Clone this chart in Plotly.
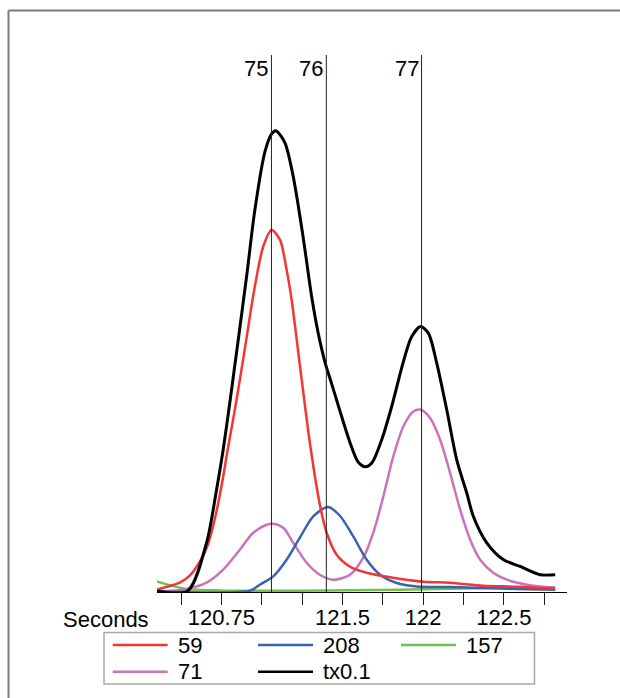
import plotly.graph_objects as go

# ---------------- data ----------------
series_names = ["59", "208", "157", "71", "tx0.1"]

t_59 = [120.349, 120.492, 120.554, 120.616, 120.666, 120.715, 120.752, 120.789, 120.844, 120.901,
        120.957, 121.009, 121.061, 121.113, 121.154, 121.185, 121.236, 121.298, 121.360, 121.402,
        121.464, 121.547, 121.650, 121.815, 122.001, 122.167, 122.372, 122.581, 122.818]
v_59 = [0.43, 1.73, 3.03, 5.64, 8.80, 14.39, 19.97, 26.48, 35.79, 46.40,
        56.88, 64.32, 67.43, 65.57, 59.99, 54.42, 42.31, 27.79, 16.25, 11.04,
        6.94, 4.71, 3.59, 2.66, 1.92, 1.73, 1.17, 0.98, 0.61]

t_208 = [120.349, 120.926, 120.988, 121.071, 121.154, 121.236, 121.319, 121.410, 121.484, 121.567,
         121.650, 121.733, 121.836, 121.960, 122.167, 122.373, 122.581, 122.818]
v_208 = [0.15, 0.24, 1.36, 2.90, 6.01, 10.11, 14.07, 15.82, 14.20, 10.35,
         6.01, 3.22, 1.68, 1.04, 0.93, 0.74, 0.56, 0.43]

t_157 = [120.349, 120.442, 120.534, 120.740, 121.236, 121.857, 122.353, 122.818]
v_157 = [1.97, 1.17, 0.56, 0.30, 0.24, 0.43, 0.71, 0.89]

t_71 = [120.349, 120.511, 120.658, 120.761, 120.864, 120.947, 121.030, 121.071, 121.133, 121.195,
        121.278, 121.360, 121.443, 121.547, 121.629, 121.691, 121.753, 121.815, 121.877,
        121.939, 121.985, 122.043, 122.105, 122.167, 122.229, 122.291, 122.353, 122.436, 122.519,
        122.643, 122.818]
v_71 = [0.15, 0.43, 1.73, 4.15, 7.87, 11.04, 12.53, 12.71, 11.97, 9.18,
        5.45, 3.22, 2.29, 3.22, 6.38, 11.04, 17.79, 25.24, 30.82,
        33.61, 33.93, 32.38, 28.35, 22.15, 15.32, 9.73, 6.01, 3.54, 2.29,
        1.36, 0.74]

t_tx = [120.349, 120.542, 120.658, 120.720, 120.761, 120.802, 120.906, 120.957, 121.019, 121.061,
        121.087, 121.143, 121.195, 121.257, 121.309, 121.348, 121.391, 121.435, 121.484, 121.547,
        121.596, 121.640, 121.683, 121.743, 121.805, 121.877, 121.929, 121.985, 122.032, 122.084,
        122.146, 122.208, 122.270, 122.311, 122.395, 122.498, 122.601, 122.725, 122.818]
v_tx = [0.15, 0.24, 9.18, 19.04, 26.48, 35.23, 58.74, 71.08, 81.90, 85.30,
        85.91, 83.70, 77.35, 65.94, 55.02, 48.45, 42.86, 38.58, 33.74, 27.79,
        24.25, 23.32, 24.07, 28.35, 34.54, 42.86, 47.57, 49.43, 48.20, 42.62,
        33.93, 24.62, 18.43, 14.07, 9.12, 6.01, 4.76, 3.22, 3.22]

peak_labels = ["75", "76", "77"]
peak_times = [121.06, 121.40, 121.99]

tick_vals = [120.5, 120.75, 121.0, 121.25, 121.5, 121.75, 122.0, 122.25, 122.5, 122.75]
tick_text = ["", "120.75", "", "", "121.5", "", "122", "", "122.5", ""]
x_title = "Seconds"

# ---------------- styling ----------------
W, H = 620, 698
ML, MR, MT, MB = 157, 53, 55, 106
PW, PH = W - ML - MR, H - MT - MB
FONT = "Liberation Sans, Arial, sans-serif"

colors = {"59": "#f23535", "208": "#3a62b0", "157": "#72c050", "71": "#cc72bd", "tx0.1": "#000000"}
widths = {"59": 2.5, "208": 2.5, "157": 2.5, "71": 2.5, "tx0.1": 3}
data = {"59": (t_59, v_59), "208": (t_208, v_208), "157": (t_157, v_157),
        "71": (t_71, v_71), "tx0.1": (t_tx, v_tx)}


def px(xp):
    return (xp - ML) / PW


def py(yp):
    return (H - MB - yp) / PH


fig = go.Figure()
for name in ["157", "71", "208", "59", "tx0.1"]:
    t, v = data[name]
    fig.add_trace(go.Scatter(x=t, y=v, mode="lines", name=name, showlegend=False,
                             line=dict(color=colors[name], width=widths[name],
                                       shape="spline", smoothing=0.8)))

shapes = []
annotations = []
# peak marker lines
for lab, pt in zip(peak_labels, peak_times):
    shapes.append(dict(type="line", xref="x", yref="paper", x0=pt, x1=pt, y0=0, y1=1,
                       line=dict(color="#222222", width=1), layer="above"))
    annotations.append(dict(text=lab, x=pt, xref="x", y=py(68.5), yref="paper",
                            xanchor="right", yanchor="middle", xshift=-1, showarrow=False,
                            font=dict(family=FONT, size=22, color="black")))

# axis title
annotations.append(dict(text=x_title, x=px(151), xref="paper", y=py(619), yref="paper",
                        xanchor="right", yanchor="middle", showarrow=False,
                        font=dict(family=FONT, size=22, color="black")))

# legend box
shapes.append(dict(type="rect", xref="paper", yref="paper", x0=px(104), x1=px(534.5),
                   y0=py(684), y1=py(632.5), line=dict(color="#a8a8a8", width=1.5),
                   fillcolor="white", layer="above"))
leg_cols = [112.7, 258, 401]
leg_rows = [645, 671.7]
for i, name in enumerate(series_names):
    c, r = i % 3, i // 3
    x0 = leg_cols[c]
    yy = leg_rows[r]
    shapes.append(dict(type="line", xref="paper", yref="paper", x0=px(x0), x1=px(x0 + 55),
                       y0=py(yy), y1=py(yy), line=dict(color=colors[name], width=2.5),
                       layer="above"))
    annotations.append(dict(text=name, x=px(x0 + 63), xref="paper", y=py(yy), yref="paper",
                            xanchor="left", yanchor="middle", showarrow=False,
                            font=dict(family=FONT, size=22, color="black")))

# outer frame (top and left edges visible)
shapes.append(dict(type="line", xref="paper", yref="paper", x0=px(8.5), x1=px(625),
                   y0=py(10.5), y1=py(10.5), line=dict(color="#7a7a7a", width=2)))
shapes.append(dict(type="line", xref="paper", yref="paper", x0=px(8.5), x1=px(8.5),
                   y0=py(10.5), y1=py(705), line=dict(color="#7a7a7a", width=2)))

fig.update_layout(
    width=W, height=H, autosize=False,
    margin=dict(l=ML, r=MR, t=MT, b=MB, pad=0),
    paper_bgcolor="white", plot_bgcolor="white",
    shapes=shapes, annotations=annotations,
    font=dict(family=FONT, size=22, color="black"),
    xaxis=dict(range=[120.351, 122.891], showgrid=False, zeroline=False,
               showline=True, linecolor="black", linewidth=1,
               ticks="outside", ticklen=12, tickwidth=1, tickcolor="#222222",
               tickvals=tick_vals, ticktext=tick_text, ticklabelstandoff=-6,
               tickfont=dict(family=FONT, size=22, color="black")),
    yaxis=dict(range=[0, 100], visible=False, showgrid=False, zeroline=False),
)

fig.write_html("out.html", config={"displayModeBar": False},
               post_script="document.body.style.margin='0px';document.body.style.padding='0px';")
